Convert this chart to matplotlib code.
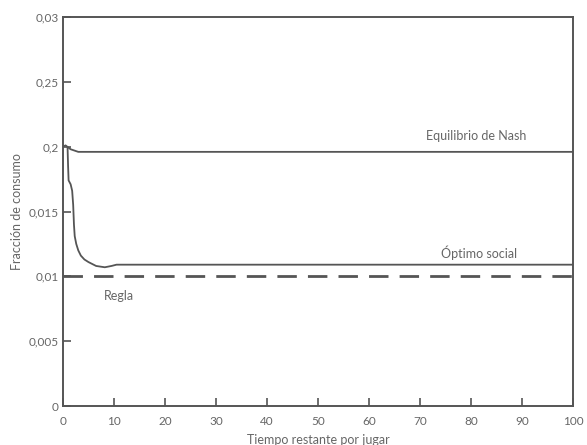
import matplotlib.pyplot as plt

# Datos
tiempo_nash = [0, 0.5, 1.5, 3, 100]
nash = [0.0200, 0.0201, 0.0198, 0.0196, 0.0196]

tiempo_optimo = [0.9, 1.0, 1.1, 1.5, 1.8, 2.0, 2.15, 2.3, 2.6, 3.0, 3.5, 4.2, 5.0, 6.5, 8.2, 9.5, 10.5, 100]
optimo = [0.0199, 0.0185, 0.0174, 0.0171, 0.0166, 0.0155, 0.0140, 0.0131, 0.0125, 0.0120, 0.0116, 0.0113, 0.0111, 0.0108, 0.0107, 0.0108, 0.0109, 0.0109]

regla = 0.01

yticks = [0, 0.005, 0.01, 0.015, 0.02, 0.025, 0.03]
ytick_labels = ['0', '0,005', '0,01', '0,015', '0,2', '0,25', '0,03']
xticks = [0, 10, 20, 30, 40, 50, 60, 70, 80, 90, 100]

gris = '#555555'
texto = '#666666'
plt.rcParams['font.family'] = ['Lato', 'DejaVu Sans']

fig = plt.figure(figsize=(5.87, 4.45), dpi=100)
ax = fig.add_axes([0.1073, 0.0876, 0.8689, 0.8742])

ax.plot(tiempo_nash, nash, color=gris, lw=1.3)
ax.plot(tiempo_optimo, optimo, color=gris, lw=1.3)
ax.axhline(regla, color=gris, lw=2, dashes=(7, 4))

ax.set_xlim(0, 100)
ax.set_ylim(0, 0.03)
ax.set_xticks(xticks)
ax.set_xticklabels([str(t) for t in xticks])
ax.set_yticks(yticks)
ax.set_yticklabels(ytick_labels)
ax.tick_params(direction='in', length=6, width=1.2, color=gris, labelcolor=texto,
               labelsize=8.5, pad=3)
ax.tick_params(axis='x', pad=7)

for s in ax.spines.values():
    s.set_color(gris)
    s.set_linewidth(1.4)

ax.text(81, 0.0208, 'Equilibrio de Nash', color=texto, fontsize=9, ha='center', va='center')
ax.text(81.5, 0.0118, 'Óptimo social', color=texto, fontsize=9, ha='center', va='center')
ax.text(11, 0.0085, 'Regla', color=texto, fontsize=9, ha='center', va='center')

ax.set_xlabel('Tiempo restante por jugar', color=texto, fontsize=9, labelpad=5)
ax.set_ylabel('Fracción de consumo', color=texto, fontsize=9, labelpad=4)

fig.savefig('out.png', dpi=100)
